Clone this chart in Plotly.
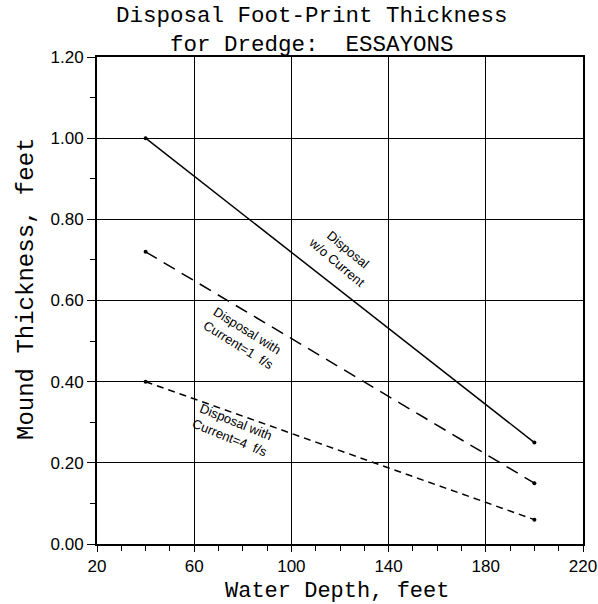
import plotly.graph_objects as go

depth = [40, 200]
no_current = [1.00, 0.25]
current_1 = [0.72, 0.15]
current_4 = [0.40, 0.06]

x_ticks = [20, 60, 100, 140, 180, 220]
y_ticks = [0.0, 0.2, 0.4, 0.6, 0.8, 1.0, 1.2]

title_text = "Disposal Foot-Print Thickness<br>for Dredge:  ESSAYONS"
x_title = "Water Depth, feet"
y_title = "Mound Thickness, feet"

labels = [
    ("Disposal<br>w/o Current", 121, 0.71, 40),
    ("Disposal with<br>Current=1  f/s", 80, 0.507, 32),
    ("Disposal with<br>Current=4  f/s", 76, 0.28, 22),
]

MONO = "Liberation Mono, Courier New, monospace"
SANS = "Liberation Sans, Arial, sans-serif"

fig = go.Figure()
series = [(no_current, "solid"), (current_1, "13px,8px"), (current_4, "7px,5px")]
for ys, dash in series:
    fig.add_trace(go.Scatter(
        x=depth, y=ys, mode="lines+markers",
        line=dict(color="black", width=1.5, dash=dash),
        marker=dict(color="black", size=4),
        showlegend=False, hoverinfo="skip",
    ))

for txt, x, y, ang in labels:
    fig.add_annotation(x=x, y=y, xref="x", yref="y", text=txt, showarrow=False,
                       textangle=ang, font=dict(family=SANS, size=13, color="black"))

L, R, T, B = 97, 583, 57, 544
W, H = R - L, B - T

fig.add_annotation(x=(312 - L) / W, y=(B - 30) / H, xref="paper", yref="paper",
                   text=title_text, showarrow=False, xanchor="center", yanchor="middle",
                   font=dict(family=MONO, size=22.5, color="black"))
fig.add_annotation(x=(337 - L) / W, y=(B - 591) / H, xref="paper", yref="paper",
                   text=x_title, showarrow=False, xanchor="center", yanchor="middle",
                   font=dict(family=MONO, size=22, color="black"))
fig.add_annotation(x=(26 - L) / W, y=(B - 289) / H, xref="paper", yref="paper",
                   text=y_title, showarrow=False, textangle=-90, xanchor="center", yanchor="middle",
                   font=dict(family=MONO, size=24, color="black"))

axis_common = dict(
    showline=True, linecolor="black", linewidth=2, mirror=True,
    showgrid=True, gridcolor="black", gridwidth=1.3,
    ticks="outside", tickcolor="black", tickwidth=1.3,
    tickfont=dict(family=SANS, size=17, color="black"),
    zeroline=False, automargin=False,
)

fig.update_xaxes(range=[20, 220], tickvals=x_ticks, ticktext=[str(v) for v in x_ticks],
                 ticklen=6,
                 minor=dict(dtick=10, tick0=20, ticks="outside", ticklen=5, tickcolor="black",
                            tickwidth=1.2, showgrid=False),
                 **axis_common)
fig.update_yaxes(range=[0, 1.2], tickvals=y_ticks, ticktext=[f"{v:.2f}" for v in y_ticks],
                 ticklen=8,
                 minor=dict(dtick=0.1, tick0=0, ticks="outside", ticklen=5, tickcolor="black",
                            tickwidth=1.2, showgrid=False),
                 **axis_common)

fig.update_layout(
    width=598, height=604,
    margin=dict(l=L, r=598 - R, t=T, b=604 - B),
    paper_bgcolor="white", plot_bgcolor="white",
)

fig.write_html("out.html")
